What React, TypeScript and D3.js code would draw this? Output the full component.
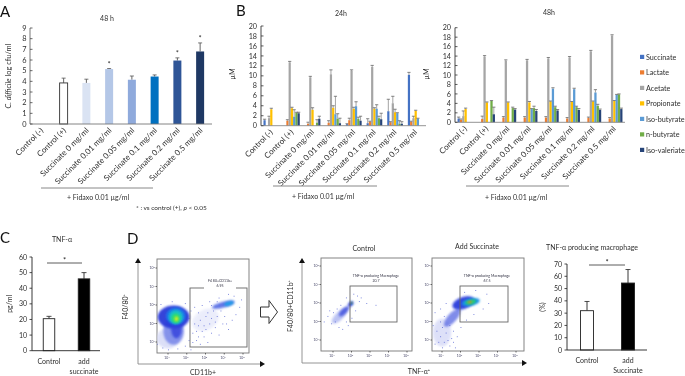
import React from "react";
import * as d3 from "d3";

const FONT = "Lato, 'Noto Sans', sans-serif";
const TXT = "#2f2f2f";

const categories = ["Control (-)", "Control (+)", "Succinate 0 mg/ml", "Succinate 0.01 mg/ml", "Succinate 0.05 mg/ml", "Succinate 0.1 mg/ml", "Succinate 0.2 mg/ml", "Succinate 0.5 mg/ml"];
const cfuValues = [0, 3.85, 3.85, 5.15, 4.15, 4.45, 5.95, 6.8];
const cfuTops = [0, 4.3, 4.2, 5.2, 4.5, 4.6, 6.2, 7.6];
const cfuColors = ["#ffffff", "#ffffff", "#DAE3F3", "#B4C7E7", "#8FAADC", "#0070C0", "#2F5597", "#1F3864"];
const cfuStars = [3, 6, 7];

const acidNames = ["Succinate", "Lactate", "Acetate", "Propionate", "Iso-butyrate", "n-butyrate", "Iso-valeriate"];
const acidColors = ["#4472C4", "#ED7D31", "#A5A5A5", "#FFC000", "#5B9BD5", "#70AD47", "#264478"];

// one row per category, one entry per acid
const acid24Values = [
  [1.1, 0, 1.5, 3.3, 0, 0, 0],
  [0, 1.0, 12.7, 3.5, 1.8, 2.6, 2.5],
  [0, 0.4, 9.7, 3.2, 0, 0.6, 1.4],
  [0, 0.6, 10.3, 3.6, 2.3, 1.4, 0.5],
  [0.3, 1.1, 11, 3.4, 3.9, 1.4, 1.0],
  [0.5, 0.8, 11.8, 3.4, 3.4, 1.5, 1.3],
  [2.9, 0.7, 4.5, 2.7, 2.5, 0.4, 0.4],
  [10.2, 0.8, 1.5, 3.0, 1.4, 0, 0],
];
const acid24Tops = [
  [1.3, 0, 1.9, 3.5, 0, 0, 0],
  [0, 1.2, 12.9, 3.7, 3.2, 2.7, 2.7],
  [0, 0.7, 9.9, 3.6, 0, 1.2, 1.9],
  [0, 1.0, 11.2, 4.0, 5.9, 2.4, 1.5],
  [0.4, 1.5, 11.2, 3.7, 4.8, 1.7, 1.9],
  [1.4, 0.9, 12.1, 3.6, 4.2, 1.9, 2.5],
  [5.3, 0.8, 5.9, 3.3, 2.6, 1.0, 0.8],
  [10.7, 0.9, 1.9, 3.1, 1.5, 0, 0],
];
const acid48Values = [
  [0.8, 0.5, 1.3, 2.8, 0, 0, 0],
  [0, 0.7, 13.9, 4.2, 0, 4.5, 1.7],
  [0, 1.0, 13, 4.2, 0, 3.0, 2.7],
  [0, 1.0, 13.1, 4.2, 2.8, 3.0, 2.4],
  [0, 1.0, 13.5, 4.4, 7.1, 3.2, 2.5],
  [0, 0.8, 13.7, 4.3, 7.0, 3.2, 2.6],
  [0, 0.9, 15, 4.4, 6.3, 3.5, 2.6],
  [0, 0.8, 18.3, 4.5, 5.8, 5.9, 2.8],
];
const acid48Tops = [
  [1.1, 0.7, 2.4, 3.0, 0, 0, 0],
  [0, 1.3, 14.1, 4.3, 0, 4.6, 3.2],
  [0, 1.2, 13.2, 4.3, 0, 3.2, 2.9],
  [0, 1.2, 13.3, 4.4, 2.9, 3.4, 2.7],
  [0, 1.2, 13.7, 4.5, 7.3, 3.4, 2.7],
  [0, 1.0, 13.9, 4.4, 7.2, 3.4, 2.9],
  [0, 1.1, 15.2, 4.5, 6.9, 3.8, 2.8],
  [0, 1.0, 18.5, 4.6, 5.9, 6.0, 3.0],
];

const tnfNames = ["Control", "add|succinate"];
const tnfValues = [20.5, 46];
const tnfTops = [22, 50];
const tnfColors = ["#ffffff", "#000000"];

const macNames = ["Control", "add|Succinate"];
const macValues = [32, 54.5];
const macTops = [39.5, 65.5];

const decades = [1, 2, 3, 4, 5];

// blobs: log x, log y, radius x, radius y (decades), angle, colour, opacity
type Blob = [number, number, number, number, number, string, number];
const gateBlobs: Blob[] = [
  [1.0, 1.2, 0.6, 0.55, 0, "#d4d8f6", 0.8],
  [1.3, 1.6, 0.55, 0.75, 0, "#6f7fe8", 0.8],
  [1.3, 2.35, 0.85, 0.62, 0, "#2a3ad8", 0.95],
  [1.45, 1.7, 0.28, 0.5, 0, "#3040dc", 0.8],
  [1.42, 2.4, 0.52, 0.46, 0, "#1c78ea", 1],
  [1.42, 2.35, 0.38, 0.38, 0, "#18c0c8", 1],
  [1.42, 2.28, 0.24, 0.26, 0, "#30dc70", 1],
  [1.45, 2.25, 0.1, 0.13, 0, "#d0ee22", 1],
  [3.0, 2.2, 0.75, 0.55, -30, "#c8cef4", 0.35],
  [3.95, 3.02, 0.62, 0.16, -15, "#3a55e0", 0.8],
  [4.25, 3.08, 0.26, 0.11, -15, "#18a0e8", 0.95],
];
const gateDots: [number, number][] = [[0.4, 0.9], [0.7, 0.7], [1.0, 0.6], [1.5, 0.65], [1.9, 0.8], [2.2, 0.6], [2.5, 1.1], [2.7, 0.9], [2.9, 1.3], [3.1, 1.0], [3.3, 1.5], [3.5, 1.8], [3.7, 1.4], [3.9, 2.0], [4.2, 1.7], [4.4, 2.2], [4.6, 2.5], [4.8, 2.9], [4.9, 3.3], [4.5, 3.5], [4.2, 3.6], [3.7, 3.4], [3.2, 3.2], [2.8, 3.0], [2.6, 2.6], [3.0, 2.4], [3.4, 2.7], [3.6, 2.4], [2.4, 2.0], [2.3, 1.5], [2.6, 1.9], [2.9, 1.9], [3.2, 2.0], [4.0, 2.4], [1.9, 3.1], [1.2, 3.2], [0.6, 3.05], [2.1, 2.3], [2.2, 2.7], [2.4, 2.9], [2.7, 2.2], [3.1, 2.6], [3.3, 2.3], [3.5, 2.1], [3.8, 2.7], [4.1, 2.0], [2.5, 1.6], [2.8, 1.6], [3.0, 1.7], [2.1, 1.1], [2.3, 1.0], [2.6, 1.3], [3.6, 3.2], [3.3, 3.0]];

const ctrlBlobs: Blob[] = [
  [1.35, 2.3, 0.55, 0.22, -45, "#a0abee", 0.7],
  [1.6, 2.55, 0.36, 0.15, -45, "#3848dc", 0.8],
  [1.95, 2.95, 0.17, 0.11, -45, "#2b3cdc", 1],
  [2.0, 3.0, 0.06, 0.07, 0, "#30b080", 1],
  [2.02, 3.02, 0.03, 0.04, 0, "#d06020", 1],
];
const ctrlDots: [number, number][] = [[0.5, 2.0], [0.7, 2.3], [0.9, 1.9], [1.0, 2.5], [1.1, 2.0], [1.3, 1.7], [1.5, 1.6], [1.7, 2.0], [1.8, 1.8], [2.0, 2.2], [2.2, 2.6], [2.4, 3.1], [2.5, 3.3], [2.3, 3.4], [2.1, 3.5], [1.7, 3.3], [1.4, 2.9], [2.8, 3.0], [3.3, 2.9], [1.2, 2.7], [0.8, 2.6]];

const addBlobs: Blob[] = [
  [1.0, 1.4, 0.5, 0.75, 0, "#d0d4f6", 0.7],
  [1.55, 2.2, 0.62, 0.24, -48, "#5666e2", 0.75],
  [2.15, 3.0, 0.62, 0.32, -20, "#2b3cdc", 0.95],
  [2.55, 3.05, 0.5, 0.2, -12, "#1890e8", 1],
  [2.55, 3.05, 0.3, 0.13, -12, "#26d070", 1],
  [2.5, 3.05, 0.12, 0.06, -12, "#e08020", 1],
];
const addDots: [number, number][] = [[0.2, 1.4], [0.4, 1.0], [0.6, 0.8], [0.5, 1.8], [0.7, 1.5], [0.8, 0.9], [1.0, 0.6], [1.1, 0.9], [1.3, 0.4], [1.4, 0.7], [1.5, 1.1], [1.7, 0.6], [1.6, 1.5], [1.8, 1.2], [0.3, 2.2], [0.6, 2.5], [0.9, 2.7], [1.2, 3.0], [2.0, 1.7], [2.3, 2.1], [2.7, 2.4], [3.2, 2.7], [3.5, 3.0], [3.4, 3.5], [2.8, 3.7], [2.2, 3.6], [0.9, 1.2], [1.2, 1.4], [1.3, 1.0], [0.9, 2.0], [1.1, 2.3], [1.4, 1.8], [1.0, 1.7], [0.4, 1.5], [1.6, 0.9]];

const star = "*";

function Txt({ x, y, s = 7, fill = TXT, anchor = "middle", rot, children, italic }: any) {
  return (
    <text x={x} y={y} fontSize={s} fontFamily={FONT} fill={fill} textAnchor={anchor} fontStyle={italic ? "italic" : undefined}
      transform={rot !== undefined ? `rotate(${rot} ${x} ${y})` : undefined}>{children}</text>
  );
}

function CatLabels({ x, y0, dy = 0, dx = 2.5 }: any) {
  return (
    <g>
      {categories.map((c) => (
        <Txt key={c} x={x(c)! + x.bandwidth() / 2 + dx} y={y0 + dy} anchor="end" rot={-45} s={8}>{c}</Txt>
      ))}
    </g>
  );
}

function YTicks({ y, ticks, x0, inner, size = 2.5, color = "#444", s = 7.4, gap = 3.5 }: any) {
  return (
    <g>
      {ticks.map((t: number) => (
        <g key={t}>
          <line x1={x0} x2={inner ? x0 + size : x0 - size} y1={y(t)} y2={y(t)} stroke={color} strokeWidth={0.8} />
          <Txt x={x0 - gap} y={y(t) + s * 0.36} anchor="end" s={s}>{t}</Txt>
        </g>
      ))}
    </g>
  );
}

function PanelA() {
  const x = d3.scaleBand<string>().domain(categories).range([30, 212]);
  const y = d3.scaleLinear().domain([0, 9]).range([124, 28]);
  const w = 8;
  return (
    <g>
      <Txt x={0} y={17} s={15} anchor="start" fill="#111">A</Txt>
      <Txt x={107} y={21}>48 h</Txt>
      <text x={11} y={76} fontSize={7.4} fontFamily={FONT} fill={TXT} textAnchor="middle" transform="rotate(-90 11 76)">
        <tspan fontStyle="italic">C. difficile</tspan> log cfu/ml
      </text>
      {categories.map((c, i) => {
        const cx = x(c)! + x.bandwidth() / 2 - 0.5;
        return (
          <g key={c}>
            <line x1={cx} x2={cx} y1={y(cfuValues[i])} y2={y(cfuTops[i])} stroke="#555" strokeWidth={0.9} />
            {cfuTops[i] > 0 && <line x1={cx - 2} x2={cx + 2} y1={y(cfuTops[i])} y2={y(cfuTops[i])} stroke="#555" strokeWidth={0.8} />}
            {cfuValues[i] > 0 && <rect x={cx - w / 2} y={y(cfuValues[i])} width={w} height={y(0) - y(cfuValues[i])} fill={cfuColors[i]} stroke={i === 1 ? "#333" : "none"} strokeWidth={0.9} />}
            {cfuStars.includes(i) && <Txt x={cx} y={y(cfuTops[i]) - 2} s={7.5} fill="#333">{star}</Txt>}
          </g>
        );
      })}
      <line x1={30} x2={30} y1={28} y2={124} stroke="#555" strokeWidth={0.8} />
      <line x1={30} x2={212} y1={124} y2={124} stroke="#777" strokeWidth={0.9} />
      <YTicks y={y} ticks={d3.range(0, 10)} x0={30} inner />
      <CatLabels x={x} y0={131} />
      <line x1={41} x2={153} y1={188} y2={188} stroke="#888" strokeWidth={1} />
      <Txt x={98} y={199.5} s={7}>+ Fidaxo 0.01 µg/ml</Txt>
      <text x={136} y={209.5} fontSize={6.5} fontFamily={FONT} fill={TXT}>* : vs control (+), <tspan fontStyle="italic">p</tspan> &lt; 0.05</text>
    </g>
  );
}

function AcidChart({ x0, x1, yBase, yTop, values, tops, title, titleX, titleY, lineY, lineX0, lineX1, noteX, noteY }: any) {
  const x = d3.scaleBand<string>().domain(categories).range([x0, x1]);
  const inner = d3.scaleBand<string>().domain(acidNames).range([0, x.bandwidth()]).paddingOuter(1.1).paddingInner(0.02);
  const y = d3.scaleLinear().domain([0, 20]).range([yBase, yTop]);
  return (
    <g>
      <Txt x={titleX} y={titleY}>{title}</Txt>
      {categories.map((c, i) => (
        <g key={c}>
          {acidNames.map((a, j) => {
            const v = values[i][j];
            const t = tops[i][j];
            if (t <= 0) return null;
            const bx = x(c)! + inner(a)!;
            const cx = bx + inner.bandwidth() / 2;
            return (
              <g key={a}>
                <rect x={bx} y={y(v)} width={inner.bandwidth()} height={y(0) - y(v)} fill={acidColors[j]} />
                <line x1={cx} x2={cx} y1={y(v)} y2={y(t)} stroke="#666" strokeWidth={0.6} />
                <line x1={cx - 1.6} x2={cx + 1.6} y1={y(t)} y2={y(t)} stroke="#666" strokeWidth={0.8} />
              </g>
            );
          })}
        </g>
      ))}
      <line x1={x0} x2={x0} y1={yTop} y2={yBase} stroke="#333" strokeWidth={0.9} />
      <line x1={x0} x2={x1} y1={yBase} y2={yBase} stroke="#888" strokeWidth={0.9} />
      <YTicks y={y} ticks={d3.range(0, 21, 2)} x0={x0} inner color="#333" s={7.2} gap={4} />
      <CatLabels x={x} y0={yBase + 7} dx={2} />
      <line x1={lineX0} x2={lineX1} y1={lineY} y2={lineY} stroke="#888" strokeWidth={1} />
      <Txt x={noteX} y={noteY} s={7}>+ Fidaxo 0.01 µg/ml</Txt>
    </g>
  );
}

function Legend() {
  const y = d3.scalePoint<string>().domain(acidNames).range([57, 150]);
  return (
    <g>
      {acidNames.map((a, i) => (
        <g key={a}>
          <rect x={640} y={y(a)! - 2.2} width={4.2} height={4.2} fill={acidColors[i]} />
          <Txt x={646} y={y(a)! + 2.5} anchor="start" s={7.2}>{a}</Txt>
        </g>
      ))}
    </g>
  );
}

function SmallBars({ names, values, tops, axisX, axisEnd, yBase, yTop, maxV, step, centers, bw, title, titleX, titleY, yLabel, yLabelX, bracket, catY, s = 7.2 }: any) {
  const y = d3.scaleLinear().domain([0, maxV]).range([yBase, yTop]);
  const x = d3.scaleOrdinal<string, number>().domain(names).range(centers);
  return (
    <g>
      <Txt x={titleX} y={titleY} s={s}>{title}</Txt>
      <Txt x={yLabelX} y={(yBase + yTop) / 2} rot={-90} s={s}>{yLabel}</Txt>
      {names.map((n: string, i: number) => {
        const cx = x(n)!;
        return (
          <g key={n}>
            <line x1={cx} x2={cx} y1={y(values[i])} y2={y(tops[i])} stroke="#222" strokeWidth={0.9} />
            <line x1={cx - 2.5} x2={cx + 2.5} y1={y(tops[i])} y2={y(tops[i])} stroke="#222" strokeWidth={0.8} />
            <rect x={cx - bw / 2} y={y(values[i])} width={bw} height={yBase - y(values[i])} fill={tnfColors[i]} stroke="#222" strokeWidth={0.9} />
            {n.split("|").map((part, k) => (
              <Txt key={part} x={cx} y={catY + k * 10} s={s}>{part}</Txt>
            ))}
          </g>
        );
      })}
      <line x1={axisX} x2={axisX} y1={yTop} y2={yBase} stroke="#222" strokeWidth={0.9} />
      <line x1={axisX} x2={axisEnd} y1={yBase} y2={yBase} stroke="#222" strokeWidth={0.9} />
      <YTicks y={y} ticks={d3.range(0, maxV + 1, step)} x0={axisX} color="#222" size={2.5} gap={5} s={s} />
      <line x1={bracket[0]} x2={bracket[1]} y1={bracket[2]} y2={bracket[2]} stroke="#333" strokeWidth={0.8} />
      <Txt x={(bracket[0] + bracket[1]) / 2} y={bracket[2] - 0.5} s={7.5} fill="#222">{star}</Txt>
    </g>
  );
}

function FlowPlot({ id, box, xTick, yTick, blobs, dots, gate, gateTitle, gateValue, gateTextX, gateTextY, gateFill }: any) {
  const xs = d3.scaleLinear().domain([1, 5]).range(xTick);
  const ys = d3.scaleLinear().domain([1, 5]).range(yTick);
  const ux = xs(2) - xs(1);
  const uy = ys(1) - ys(2);
  return (
    <g>
      <defs>
        <clipPath id={`clip${id}`}><rect x={box[0]} y={box[1]} width={box[2] - box[0]} height={box[3] - box[1]} /></clipPath>
        <filter id={`blur${id}`} x="-40%" y="-40%" width="180%" height="180%"><feGaussianBlur stdDeviation={1.2} /></filter>
      </defs>
      <rect x={box[0]} y={box[1]} width={box[2] - box[0]} height={box[3] - box[1]} fill="#fff" stroke="#777" strokeWidth={0.9} />
      <g clipPath={`url(#clip${id})`}>
        {blobs.map((b: Blob, i: number) => (
          <ellipse key={i} cx={xs(b[0])} cy={ys(b[1])} rx={b[2] * ux} ry={b[3] * uy} fill={b[5]} opacity={b[6]}
            transform={`rotate(${b[4]} ${xs(b[0])} ${ys(b[1])})`} filter={`url(#blur${id})`} />
        ))}
        {dots.map((d: [number, number], i: number) => (
          <rect key={i} x={xs(d[0])} y={ys(d[1])} width={0.9} height={0.9} fill="#3344cc" opacity={0.75} />
        ))}
      </g>
      <rect x={gate[0]} y={gate[1]} width={gate[2] - gate[0]} height={gate[3] - gate[1]} fill="none" stroke="#666" strokeWidth={0.9} />
      {gateFill && <rect x={gateTextX - 16} y={gate[1] - 1} width={32} height={2} fill="#fff" />}
      <Txt x={gateTextX} y={gateTextY} s={3.5} fill="#334">{gateTitle}</Txt>
      <Txt x={gateTextX} y={gateTextY + 5} s={3.5} fill="#334">{gateValue}</Txt>
      {decades.map((d) => (
        <g key={d}>
          <line x1={xs(d)} x2={xs(d)} y1={box[3]} y2={box[3] + 1.5} stroke="#333" strokeWidth={0.7} />
          <text x={xs(d) - 1} y={box[3] + 5.5} fontSize={3.4} fontFamily={FONT} fill="#446" textAnchor="middle">10<tspan dy={-1} fontSize={2.6}>{d}</tspan></text>
          <line x1={box[0] - 1.5} x2={box[0]} y1={ys(d)} y2={ys(d)} stroke="#333" strokeWidth={0.7} />
          <text x={box[0] - 2} y={ys(d) + 1} fontSize={3.4} fontFamily={FONT} fill="#446" textAnchor="end">10<tspan dy={-1} fontSize={2.6}>{d}</tspan></text>
        </g>
      ))}
    </g>
  );
}

function Arrows({ x, yTop, yBase, xEnd }: any) {
  return (
    <g>
      <line x1={x} x2={x} y1={yTop + 4} y2={yBase} stroke="#888" strokeWidth={0.9} />
      <line x1={x} x2={xEnd - 4} y1={yBase} y2={yBase} stroke="#888" strokeWidth={0.9} />
      <path d={d3.line()([[x - 3, yTop + 5], [x, yTop], [x + 3, yTop + 5]])! + "Z"} fill="#111" />
      <path d={d3.line()([[xEnd - 5, yBase - 3], [xEnd, yBase], [xEnd - 5, yBase + 3]])! + "Z"} fill="#111" />
    </g>
  );
}

export default function App() {
  return (
    <svg width={685} height={376} viewBox="0 0 685 376" style={{ position: "absolute", left: 0, top: 0, background: "#fff", filter: "blur(0.35px)" }}>
      <PanelA />
      <Txt x={236} y={16} s={15} anchor="start" fill="#111">B</Txt>
      <AcidChart x0={261} x1={426} yBase={125.7} yTop={26} values={acid24Values} tops={acid24Tops} title="24h" titleX={341} titleY={16}
        lineX0={273} lineX1={377} lineY={186} noteX={323} noteY={198.5} />
      <Txt x={235} y={74} rot={-90} s={7.2}>µM</Txt>
      <Txt x={429} y={74} rot={-90} s={7.2}>µM</Txt>
      <AcidChart x0={455} x1={625} yBase={122.3} yTop={27.7} values={acid48Values} tops={acid48Tops} title="48h" titleX={549} titleY={15}
        lineX0={466} lineX1={569} lineY={186} noteX={516} noteY={199.5} />
      <Legend />

      <Txt x={0} y={243} s={15} anchor="start" fill="#111">C</Txt>
      <SmallBars names={tnfNames} values={tnfValues} tops={tnfTops} axisX={32} axisEnd={100} yBase={350.7} yTop={257} maxV={60} step={10}
        centers={[49, 84]} bw={11.5} title="TNF-α" titleX={62} titleY={242} yLabel="pg/ml" yLabelX={12} bracket={[47, 82, 263]} catY={363.5} s={7} />

      <Txt x={127} y={244} s={15} anchor="start" fill="#111">D</Txt>
      <Arrows x={138} yTop={258} yBase={364} xEnd={265} />
      <Txt x={128} y={307} rot={-90} s={7}>F40/80⁺</Txt>
      <Txt x={203} y={375} s={7}>CD11b+</Txt>
      <FlowPlot id="a" box={[157, 259, 249, 353]} xTick={[168, 243]} yTick={[342, 268]} blobs={gateBlobs} dots={gateDots}
        gate={[190, 288, 247, 347]} gateTitle="F4 80+CD11b+" gateValue="6.95" gateTextX={220} gateTextY={282} gateFill />

      <path d={d3.line()([[260.5, 307], [269, 307], [269, 300.5], [277.5, 312], [269, 323.5], [269, 317], [260.5, 317]])! + "Z"} fill="#fff" stroke="#333" strokeWidth={1} />

      <Arrows x={302} yTop={258} yBase={363} xEnd={527} />
      <Txt x={293} y={306} rot={-90} s={7}>F40/80+CD11b⁺</Txt>
      <Txt x={419} y={374} s={7}>TNF-α⁺</Txt>
      <Txt x={364} y={251} s={7}>Control</Txt>
      <Txt x={477} y={249} s={7}>Add Succinate</Txt>
      <FlowPlot id="b" box={[321, 258, 412, 351]} xTick={[333, 407]} yTick={[340, 266]} blobs={ctrlBlobs} dots={ctrlDots}
        gate={[350, 286, 397, 322]} gateTitle="TNF-α producing Macrophage" gateValue="20.7" gateTextX={376} gateTextY={276.5} />
      <FlowPlot id="c" box={[432, 258, 524, 351]} xTick={[442, 516]} yTick={[340, 266]} blobs={addBlobs} dots={addDots}
        gate={[460, 286, 508, 322]} gateTitle="TNF-α producing Macrophage" gateValue="67.5" gateTextX={487} gateTextY={276.5} />

      <SmallBars names={macNames} values={macValues} tops={macTops} axisX={567} axisEnd={647} yBase={350} yTop={264} maxV={70} step={10}
        centers={[587, 628]} bw={13} title="TNF-α producing macrophage" titleX={592} titleY={249.5} yLabel="(%)" yLabelX={545} bracket={[589, 625, 265]} catY={363} s={7} />
    </svg>
  );
}
